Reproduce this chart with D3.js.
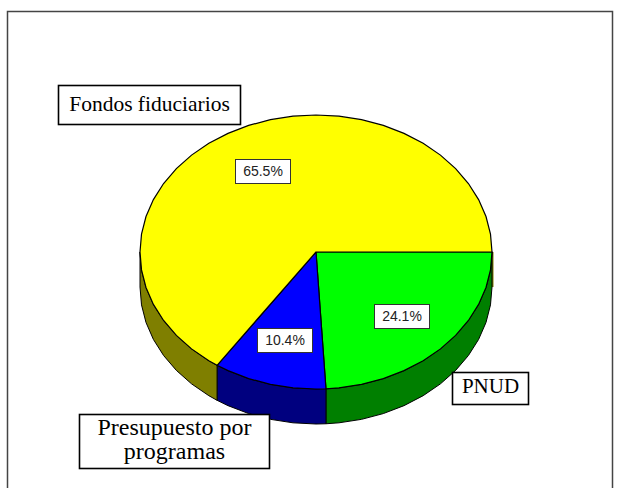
<!DOCTYPE html>
<html>
<head>
<meta charset="utf-8">
<script src="https://cdn.jsdelivr.net/npm/d3@7"></script>
<style>
body { margin: 0; background: #fff; }
svg { display: block; }
</style>
</head>
<body>
<div id="chart"></div>
<script>
// clockwise from 3 o'clock
const categories = ["PNUD", "Presupuesto por programas", "Fondos fiduciarios"];
const shares = [24.1, 10.4, 65.5];
const topColors = ["#00ff00", "#0000ff", "#ffff00"];
const sideColors = ["#007f00", "#00007f", "#7f7f00"];

const width = 617, height = 488;
const cx = 316, cy = 252, rx = 176, ry = 137, depth = 35;

const svg = d3.select("#chart").append("svg")
    .attr("width", width)
    .attr("height", height);

// frame, open at the bottom like the original
svg.append("path")
    .attr("d", "M7.5,488V11.5H612.5V488")
    .attr("fill", "none")
    .attr("stroke", "#444")
    .attr("stroke-width", 1.5);

const angle = d3.scaleLinear().domain([0, 100]).range([0, 2 * Math.PI]);

let run = 0;
const slices = shares.map((v, i) => {
    const s = { i: i, a0: angle(run), a1: angle(run + v) };
    run += v;
    return s;
});

const px = a => cx + rx * Math.cos(a);
const py = a => cy + ry * Math.sin(a);

// the original ellipse is a slightly faceted polygon
const step = 2 * Math.PI / 48;

function arcPts(a0, a1, dy) {
    const angles = [a0];
    for (let k = Math.floor(a0 / step) + 1; k * step < a1 - 1e-6; k++) {
        if (k * step > a0 + 1e-6) angles.push(k * step);
    }
    angles.push(a1);
    return angles.map(a => [px(a), py(a) + dy]);
}

const line = d3.line();

// thin sliver of the yellow wall showing at the right edge
svg.append("path")
    .attr("d", line([[px(0) + 0.5, cy], [px(0) + 0.5, cy + depth]]))
    .attr("stroke", sideColors[2])
    .attr("stroke-width", 2);

// side walls, only the front half (0 to pi) is visible
slices.forEach(s => {
    const a0 = s.a0, a1 = Math.min(s.a1, Math.PI);
    if (a0 >= a1) return;
    const pts = arcPts(a0, a1, depth).concat(arcPts(a0, a1, 0).reverse());
    svg.append("path")
        .attr("d", line(pts) + "Z")
        .attr("fill", sideColors[s.i])
        .attr("stroke", "#000")
        .attr("stroke-width", 1);
});

// top faces
slices.forEach(s => {
    const pts = [[cx, cy]].concat(arcPts(s.a0, s.a1, 0));
    svg.append("path")
        .attr("d", line(pts) + "Z")
        .attr("fill", topColors[s.i])
        .attr("stroke", "#000")
        .attr("stroke-width", 1.2);
});

// percent labels
const pctBoxes = [
    { x: 374, y: 304, w: 55, h: 24 },
    { x: 257, y: 328, w: 55, h: 24 },
    { x: 235, y: 159, w: 55, h: 24 }
];
shares.forEach((v, i) => {
    const b = pctBoxes[i];
    svg.append("rect")
        .attr("x", b.x + 0.5).attr("y", b.y + 0.5)
        .attr("width", b.w).attr("height", b.h)
        .attr("fill", "#fff").attr("stroke", "#333").attr("stroke-width", 1);
    svg.append("text")
        .attr("x", b.x + b.w / 2 + 0.5)
        .attr("y", b.y + b.h / 2 + 4.5)
        .attr("text-anchor", "middle")
        .attr("font-family", "Liberation Sans")
        .attr("font-size", 14)
        .attr("fill", "#222")
        .text(d3.format(".1f")(v) + "%");
});

// category labels
const catBoxes = [
    { x: 452, y: 372, w: 76, h: 32, size: 21, base: [393], lines: ["PNUD"] },
    { x: 79, y: 414, w: 190, h: 54, size: 24, base: [435, 459], lines: ["Presupuesto por", "programas"] },
    { x: 58, y: 85, w: 182, h: 39, size: 21.5, base: [111], lines: ["Fondos fiduciarios"] }
];
catBoxes.forEach(b => {
    svg.append("rect")
        .attr("x", b.x + 0.5).attr("y", b.y + 0.5)
        .attr("width", b.w).attr("height", b.h)
        .attr("fill", "#fff").attr("stroke", "#000").attr("stroke-width", 1.6);
    b.lines.forEach((t, k) => {
        svg.append("text")
            .attr("x", b.x + b.w / 2 + 0.5)
            .attr("y", b.base[k])
            .attr("text-anchor", "middle")
            .attr("font-family", "Liberation Serif")
            .attr("font-size", b.size)
            .attr("fill", "#000")
            .text(t);
    });
});
</script>
</body>
</html>
